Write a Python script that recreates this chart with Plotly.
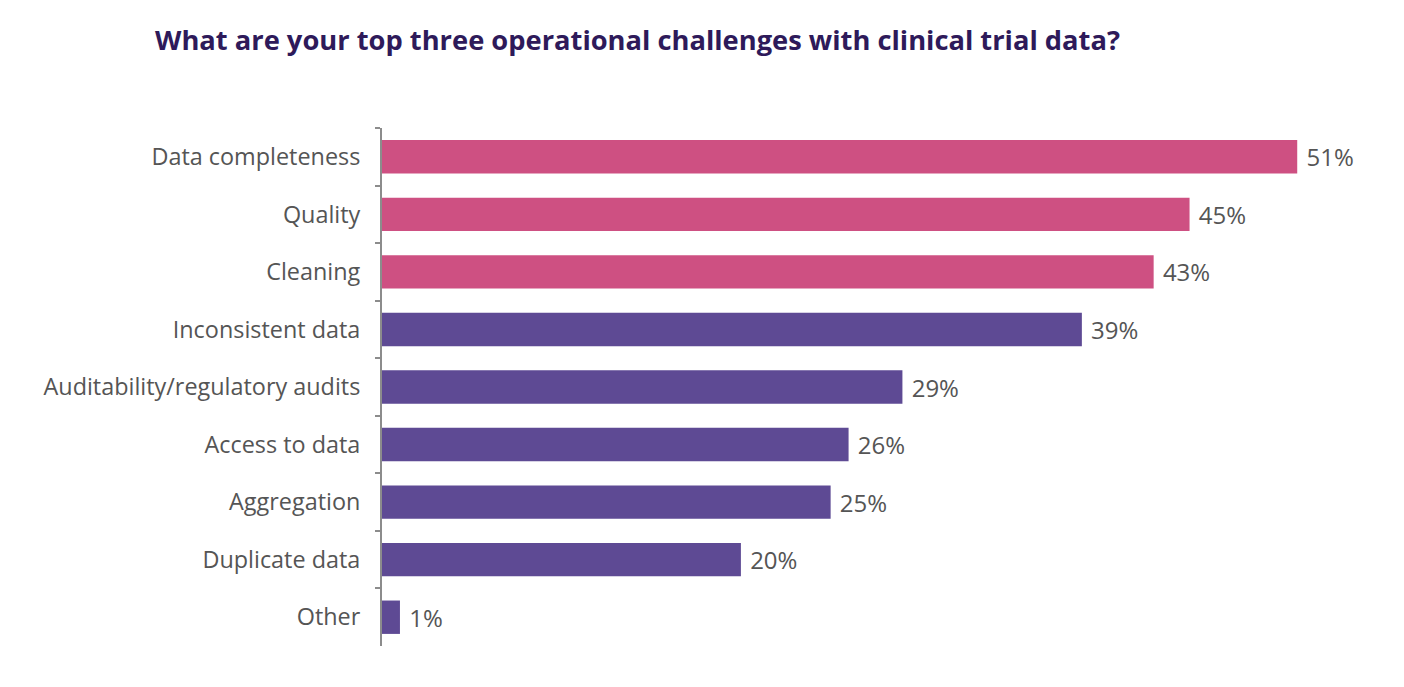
import plotly.graph_objects as go

categories = ["Data completeness", "Quality", "Cleaning", "Inconsistent data",
              "Auditability/regulatory audits", "Access to data", "Aggregation",
              "Duplicate data", "Other"]
values = [51, 45, 43, 39, 29, 26, 25, 20, 1]
pink = "#CE5082"
purple = "#5E4A94"
colors = [pink, pink, pink] + [purple] * 6
labels = [f" {v}%" for v in values]

FONT = "Open Sans"
W, H = 1396, 679

fig = go.Figure(go.Bar(
    y=categories, x=values, orientation="h",
    marker=dict(color=colors, line=dict(width=0)),
    text=labels, textposition="outside", cliponaxis=False,
    textfont=dict(size=24, color="#555555", family=FONT),
))

fig.update_layout(
    width=W, height=H,
    margin=dict(l=374, r=35, t=120, b=41, autoexpand=False),
    paper_bgcolor="white", plot_bgcolor="white",
    bargap=0.42,
    showlegend=False,
    title=dict(text="<b>What are your top three operational challenges with clinical trial data?</b>",
               x=147/W, xanchor="left", y=1-32/H, yanchor="middle",
               font=dict(size=27.3, color="#2E1A5A", family=FONT)),
    font=dict(family=FONT, color="#555555"),
)
fig.update_yaxes(autorange="reversed", showline=True, linecolor="#8C8C8C", linewidth=2,
                 ticks="outside", tickson="boundaries", ticklen=5, tickcolor="#8C8C8C",
                 tickwidth=2, tickfont=dict(size=23.4, color="#555555", family=FONT),
                 ticklabelstandoff=15, showgrid=False, automargin=False)
fig.update_xaxes(range=[0, 55], visible=False, showgrid=False, automargin=False)

fig.write_html("out.html")
